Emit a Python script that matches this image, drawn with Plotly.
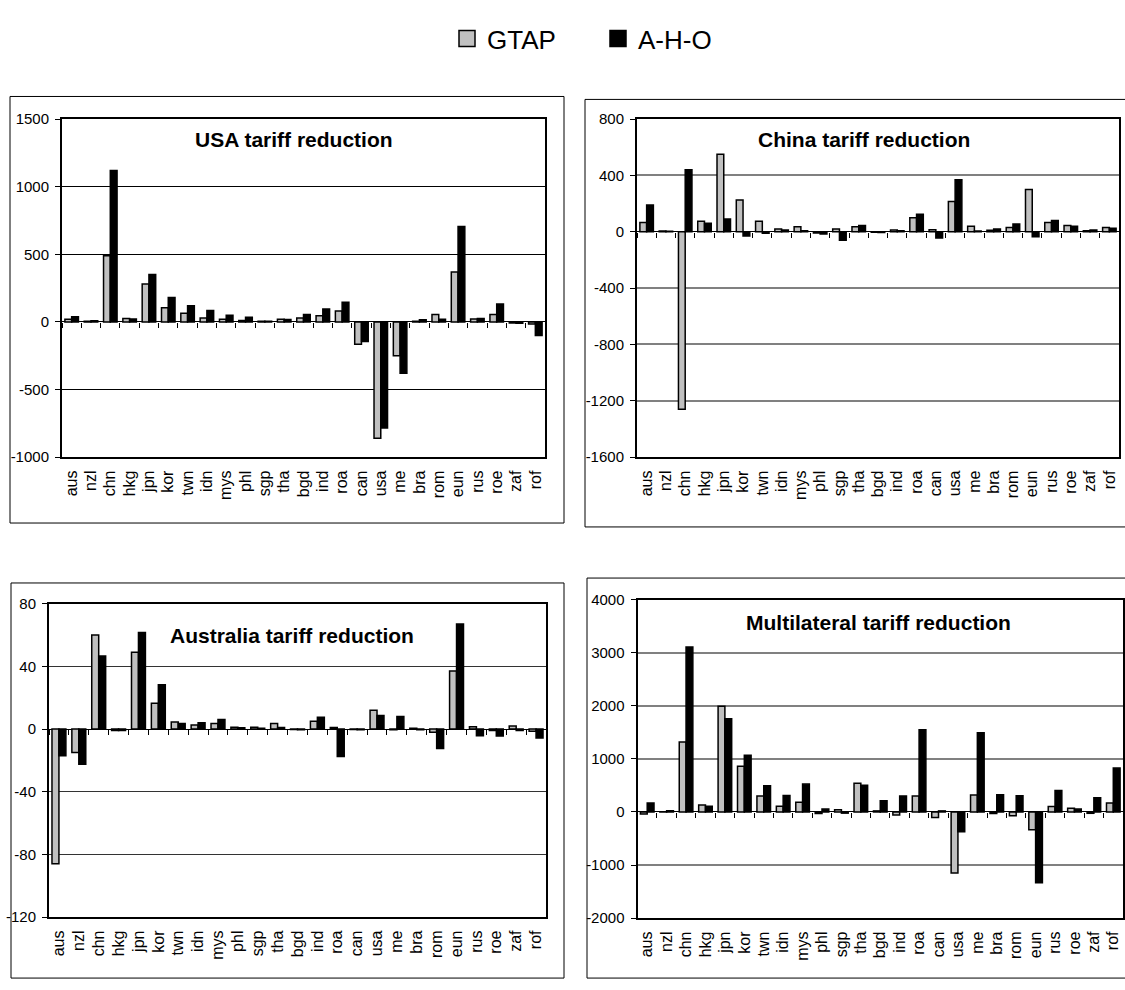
import plotly.graph_objects as go

W, H = 1125, 990

regions = ["aus", "nzl", "chn", "hkg", "jpn", "kor", "twn", "idn", "mys", "phl",
           "sgp", "tha", "bgd", "ind", "roa", "can", "usa", "me", "bra", "rom",
           "eun", "rus", "roe", "zaf", "rof"]

# USA tariff reduction
usa_gtap = [20, 5, 490, 25, 280, 105, 65, 30, 20, 10, 5, 20, 30, 45, 80,
            -165, -860, -250, 5, 55, 370, 22, 55, -8, -15]
usa_aho = [38, 8, 1120, 22, 350, 180, 120, 85, 50, 35, 5, 18, 55, 95, 145,
           -145, -785, -380, 17, 20, 705, 25, 132, -10, -100]
usa_ticks = [-1000, -500, 0, 500, 1000, 1500]

# China tariff reduction
chn_gtap = [66, 5, -1260, 75, 550, 225, 75, 20, 35, -8, 20, 35, -3, 12, 100,
            15, 215, 40, 10, 30, 300, 65, 45, 7, 30]
chn_aho = [190, 3, 440, 60, 90, -30, -10, 12, 8, -15, -60, 45, -5, 8, 125,
           -45, 370, 5, 20, 55, -35, 80, 40, 12, 25]
chn_ticks = [-1600, -1200, -800, -400, 0, 400, 800]

# Australia tariff reduction
aus_gtap = [-86, -15, 60, -1, 49, 16.5, 4.5, 2.5, 3.5, 1.2, 1.2, 3.5, -0.3, 5, 1,
            -0.3, 12, -0.5, 0.5, -2, 37, 1.5, -1, 2, -1.5]
aus_aho = [-17, -22.5, 46.5, -1, 61.5, 28.3, 3.5, 4, 6, 0.8, 0.5, 1, -0.5, 7.5, -17.5,
           -0.5, 8.7, 8, -0.5, -12.5, 67, -4.3, -4.5, -1, -5.8]
aus_ticks = [-120, -80, -40, 0, 40, 80]

# Multilateral tariff reduction
mul_gtap = [-40, 5, 1320, 130, 1990, 860, 300, 110, 185, -30, 40, 540, 20, -55, 300,
            -105, -1150, 320, -30, -70, -335, 105, 70, -25, 168]
mul_aho = [170, 25, 3110, 110, 1755, 1070, 492, 308, 525, 55, -22, 505, 210, 302, 1550,
           20, -372, 1495, 325, 305, -1335, 405, 55, 270, 828]
mul_ticks = [-2000, -1000, 0, 1000, 2000, 3000, 4000]

GRAY = "#C0C0C0"
FONT = "Liberation Sans, Arial, sans-serif"


def px_x(v):
    return v / W


def px_y(v):
    return 1 - v / H


# panel geometry: plot area (left, top, right, bottom) and outer frame, in pixels
panels = [
    dict(title="USA tariff reduction", g=usa_gtap, a=usa_aho, ticks=usa_ticks,
         plot=(62, 112, 545, 456), frame=(10, 89, 564, 523),
         grid="#000000", gw=1, tpos=(294, 133)),
    dict(title="China tariff reduction", g=chn_gtap, a=chn_aho, ticks=chn_ticks,
         plot=(637, 112, 1119, 456), frame=(585, 92, 1127, 527),
         grid="#808080", gw=1.5, tpos=(864, 133)),
    dict(title="Australia tariff reduction", g=aus_gtap, a=aus_aho, ticks=aus_ticks,
         plot=(49, 605, 546, 924), frame=(11, 584, 564, 986),
         grid="#333333", gw=1, tpos=(292, 637)),
    dict(title="Multilateral tariff reduction", g=mul_gtap, a=mul_aho, ticks=mul_ticks,
         plot=(637.5, 601, 1123, 925), frame=(587, 579, 1127, 986),
         grid="#808080", gw=1.5, tpos=(878, 624)),
]

fig = go.Figure()
layout = dict(
    width=W, height=H,
    margin=dict(l=0, r=0, t=0, b=0),
    paper_bgcolor="white", plot_bgcolor="white",
    font=dict(family=FONT, color="black"),
    barmode="group", bargap=0.3, bargroupgap=0.0,
    showlegend=True,
    shapes=[], annotations=[],
)

for i, p in enumerate(panels, start=1):
    xa = "x" if i == 1 else f"x{i}"
    ya = "y" if i == 1 else f"y{i}"
    tick_ax = f"x{i + 4}"
    L, T, R, B = p["plot"]
    xdom = [px_x(L), px_x(R)]
    ydom = [px_y(B), px_y(T)]
    lo, hi = min(p["ticks"]), max(p["ticks"])

    fig.add_trace(go.Bar(x=regions, y=p["g"], name="GTAP", marker_color=GRAY,
                         marker_line=dict(color="black", width=1.5),
                         xaxis=xa, yaxis=ya, showlegend=False))
    fig.add_trace(go.Bar(x=regions, y=p["a"], name="A-H-O", marker_color="black",
                         marker_line=dict(color="black", width=1.5),
                         xaxis=xa, yaxis=ya, showlegend=False))
    # empty trace carrying the category tick marks along the zero line
    fig.add_trace(go.Scatter(x=regions, y=[None] * len(regions), xaxis=tick_ax,
                             yaxis=ya, showlegend=False, hoverinfo="skip"))

    xkey = "xaxis" if i == 1 else f"xaxis{i}"
    ykey = "yaxis" if i == 1 else f"yaxis{i}"
    layout[xkey] = dict(
        domain=xdom, anchor=ya, type="category", range=[-0.5, len(regions) - 0.5],
        showline=True, linecolor="black", linewidth=2, mirror=True,
        ticks="", tickangle=-90, tickfont=dict(size=16, family=FONT),
        ticklabelstandoff=5, showgrid=False,
    )
    zero_frac = ydom[0] + (0 - lo) / (hi - lo) * (ydom[1] - ydom[0])
    layout[f"xaxis{i + 4}"] = dict(
        overlaying=xa, anchor="free", position=zero_frac, type="category",
        range=[-0.5, len(regions) - 0.5], showticklabels=False, showline=False,
        ticks="outside", tickson="boundaries", ticklen=5, tickwidth=1,
        tickcolor="black", showgrid=False,
    )
    layout[ykey] = dict(
        domain=ydom, anchor=xa, range=[lo, hi],
        tickmode="array", tickvals=p["ticks"], ticktext=[str(v) for v in p["ticks"]],
        showline=True, linecolor="black", linewidth=2, mirror=True,
        ticks="outside", ticklen=5, tickwidth=1, tickcolor="black",
        ticklabelstandoff=3, tickfont=dict(size=15, family=FONT),
        showgrid=True, gridcolor=p["grid"], gridwidth=p["gw"],
        zeroline=True, zerolinecolor="black", zerolinewidth=1,
    )
    fL, fT, fR, fB = p["frame"]
    layout["shapes"].append(dict(type="rect", xref="paper", yref="paper",
                                 x0=px_x(fL), x1=px_x(fR), y0=px_y(fB), y1=px_y(fT),
                                 line=dict(color="black", width=1), layer="below"))
    tx, ty = p["tpos"]
    layout["annotations"].append(dict(
        text=p["title"], xref="paper", yref="paper", x=px_x(tx), y=px_y(ty),
        xanchor="center", yanchor="middle", showarrow=False,
        font=dict(size=21, family=FONT, weight="bold", color="black")))

# legend entries
fig.add_trace(go.Scatter(x=[None], y=[None], mode="markers", name="GTAP",
                         marker=dict(symbol="square", size=16, color=GRAY,
                                     line=dict(color="black", width=1.5))))
fig.add_trace(go.Scatter(x=[None], y=[None], mode="markers", name="A-H-O",
                         marker=dict(symbol="square", size=16, color="black",
                                     line=dict(color="black", width=1.5))))

layout["legend"] = dict(
    orientation="h", x=px_x(447), y=px_y(30), xanchor="left", yanchor="middle",
    font=dict(size=26, family=FONT, color="black"), bgcolor="rgba(0,0,0,0)",
    entrywidth=106, entrywidthmode="pixels", itemclick=False,
)

fig.update_layout(**layout)
fig.write_html("out.html")
